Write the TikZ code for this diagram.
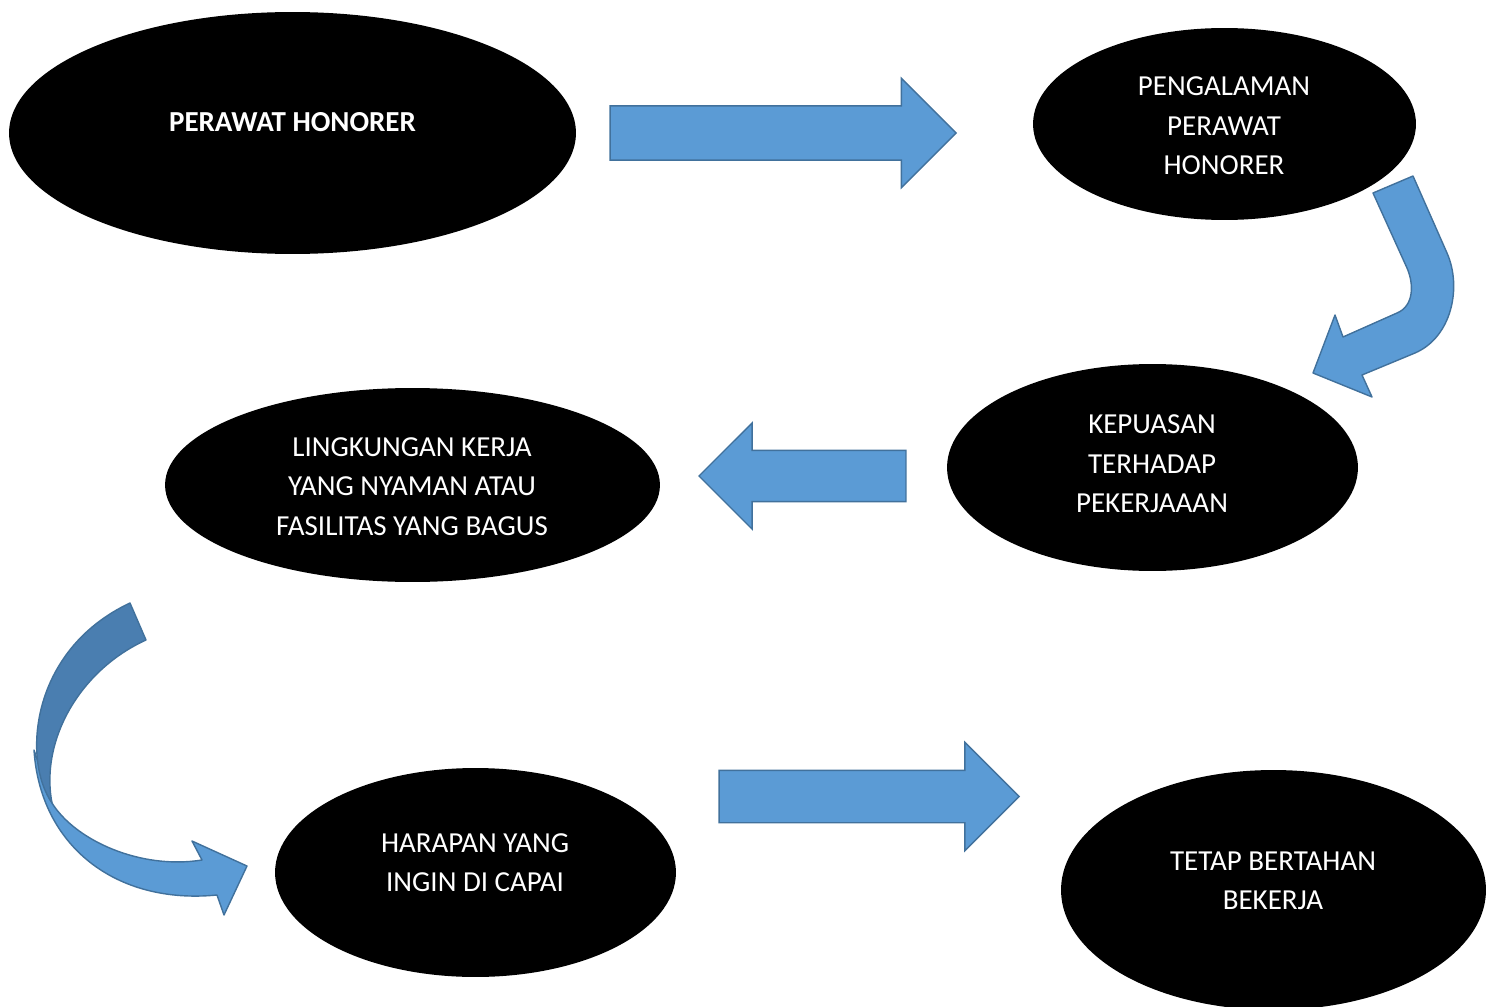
\documentclass[tikz,border=0pt]{standalone}
\usepackage{fontspec}
\setmainfont{Carlito}
\usetikzlibrary{shapes.geometric,shapes.arrows}
\definecolor{arrowblue}{HTML}{5B9BD5}
\definecolor{arrowdark}{HTML}{4A7EB0}
\definecolor{arrowedge}{HTML}{41719C}
\begin{document}
\begin{tikzpicture}[x=0.02cm, y=-0.02cm,
  oval/.style={ellipse, fill=black, inner sep=0pt},
  txt/.style={text=white, align=center, font=\fontsize{16.5}{22.4}\selectfont},
  blockarrow/.style={single arrow, fill=arrowblue, draw=arrowedge, line width=0.8pt,
    inner xsep=0pt, inner ysep=0.53cm, single arrow head extend=0.55cm, anchor=tip},
  ribbon/.style={fill=arrowblue, draw=arrowedge, line width=0.8pt, line join=round}]
  \clip (0,0) rectangle (1488,1007);
  % ellipses
  \node[oval, minimum width=11.34cm, minimum height=4.84cm] (perawat) at (292.5,133) {};
  \node[oval, minimum width=7.66cm, minimum height=3.84cm] (pengalaman) at (1224.5,124) {};
  \node[oval, minimum width=8.22cm, minimum height=4.14cm] (kepuasan) at (1152.5,467.5) {};
  \node[oval, minimum width=9.9cm, minimum height=3.88cm] (lingkungan) at (412.5,485) {};
  \node[oval, minimum width=8.02cm, minimum height=4.18cm] (harapan) at (475.5,872.5) {};
  \node[oval, minimum width=8.5cm, minimum height=4.8cm] (bertahan) at (1273.5,890) {};
  \node[txt] (t1) at (292.5,122) {\textbf{PERAWAT HONORER}};
  \node[txt] (t2) at (1224,126) {PENGALAMAN\\PERAWAT\\HONORER};
  \node[txt] (t3) at (1152,464) {KEPUASAN\\TERHADAP\\PEKERJAAAN};
  \node[txt] (t4) at (412,486.5) {LINGKUNGAN KERJA\\YANG NYAMAN ATAU\\FASILITAS YANG BAGUS};
  \node[txt] (t5) at (475,862.5) {HARAPAN YANG\\INGIN DI CAPAI};
  \node[txt] (t6) at (1273,881) {TETAP BERTAHAN\\BEKERJA};
  % straight arrows
  \node[blockarrow, minimum height=6.92cm] (a1) at (957,133) {};
  \node[blockarrow, minimum height=4.14cm, inner ysep=0.5cm, shape border rotate=180] (a2) at (698,476) {};
  \node[blockarrow, minimum height=6cm, inner ysep=0.51cm, single arrow head extend=0.56cm] (a3) at (1020,796.5) {};
  % bent arrow on the right
  \draw[ribbon] (1413,176) -- (1447,253) .. controls (1462,287) and (1452,337) .. (1415,353)
    -- (1362,375) -- (1372,397) -- (1313,373) -- (1335,315) -- (1343,337) -- (1397,313)
    .. controls (1414,306) and (1414,284) .. (1407,268) -- (1373,193) -- cycle;
  % curved arrow on the left
  \draw[ribbon] (34,750) .. controls (40,845) and (115,905) .. (217,895) -- (224,915) -- (247,866)
    -- (192,841) -- (202,860) .. controls (140,870) and (75,840) .. (52,803) -- cycle;
  \draw[ribbon, fill=arrowdark] (130,603) -- (146,640) .. controls (80,670) and (40,740) .. (52,803)
    .. controls (22,760) and (30,650) .. (130,603) -- cycle;
\end{tikzpicture}
\end{document}
